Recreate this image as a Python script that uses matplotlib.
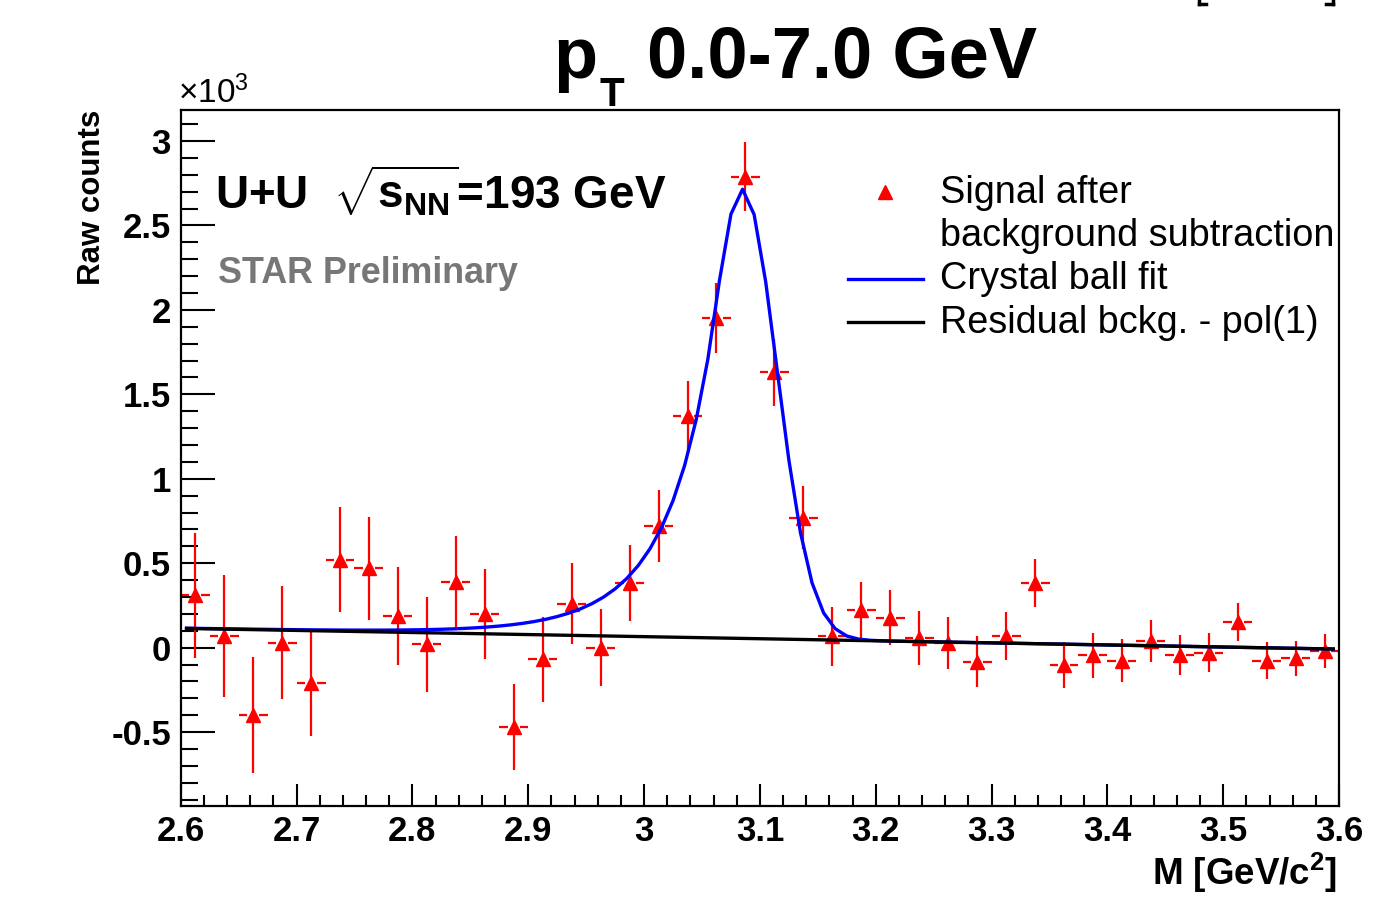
import numpy as np
import matplotlib
matplotlib.use('Agg')
import matplotlib.pyplot as plt
from matplotlib.lines import Line2D
from matplotlib.ticker import MultipleLocator, FuncFormatter

plt.rcParams['font.family'] = ['Liberation Sans', 'DejaVu Sans']
plt.rcParams['mathtext.fontset'] = 'custom'
plt.rcParams['mathtext.rm'] = 'Liberation Sans'
plt.rcParams['mathtext.bf'] = 'Liberation Sans:bold'
plt.rcParams['mathtext.it'] = 'Liberation Sans:italic'

# invariant mass bin centres (GeV/c^2), bin width 0.025
mass = [2.6125, 2.6375, 2.6625, 2.6875, 2.7125, 2.7375, 2.7625, 2.7875, 2.8125, 2.8375,
        2.8625, 2.8875, 2.9125, 2.9375, 2.9625, 2.9875, 3.0125, 3.0375, 3.0625, 3.0875,
        3.1125, 3.1375, 3.1625, 3.1875, 3.2125, 3.2375, 3.2625, 3.2875, 3.3125, 3.3375,
        3.3625, 3.3875, 3.4125, 3.4375, 3.4625, 3.4875, 3.5125, 3.5375, 3.5625, 3.5875]
half_width = 0.0125

# signal after background subtraction, in units of 10^3 counts
counts = [0.31, 0.07, -0.40, 0.03, -0.21, 0.52, 0.47, 0.19, 0.02, 0.39,
          0.20, -0.47, -0.07, 0.26, 0.00, 0.385, 0.72, 1.37, 1.95, 2.79,
          1.63, 0.77, 0.067, 0.223, 0.176, 0.055, 0.026, -0.083, 0.069, 0.383,
          -0.103, -0.044, -0.077, 0.039, -0.044, -0.031, 0.153, -0.077, -0.063, -0.02]
errors = [0.37, 0.36, 0.345, 0.335, 0.315, 0.31, 0.305, 0.29, 0.28, 0.27,
          0.265, 0.255, 0.25, 0.24, 0.23, 0.225, 0.215, 0.21, 0.207, 0.205,
          0.20, 0.185, 0.176, 0.168, 0.163, 0.159, 0.153, 0.149, 0.144, 0.14,
          0.135, 0.133, 0.128, 0.123, 0.118, 0.115, 0.111, 0.108, 0.104, 0.10]

# fit parameters (crystal ball + pol1 residual background)
cb_amp = 2.66
cb_mean = 3.085
cb_sigma = 0.0295
cb_alpha = 0.75
cb_n = 8.0
pol_p0 = 0.434
pol_p1 = -0.123
fit_lo, fit_hi = 2.605, 3.595
fit_npx = 100


def pol1(x):
    return pol_p0 + pol_p1 * x


def crystal_ball(x):
    t = (x - cb_mean) / cb_sigma
    a = cb_alpha
    A = (cb_n / a) ** cb_n * np.exp(-a * a / 2)
    B = cb_n / a - a
    out = np.exp(-t * t / 2)
    tail = t < -a
    out[tail] = A * (B - t[tail]) ** (-cb_n)
    return cb_amp * out


mass = np.array(mass)
counts = np.array(counts)
errors = np.array(errors)

fig = plt.figure(figsize=(14, 9), dpi=100)
ax = fig.add_axes([0.1291, 0.1048, 0.8274, 0.773])

red = '#ff0000'
# vertical error bars
ax.vlines(mass, counts - errors, counts + errors, color=red, lw=1.6, zorder=2)
# horizontal bin-width bars with a gap around the marker
gap = 0.0052
ax.hlines(counts, mass - half_width, mass - gap, color=red, lw=1.6, zorder=2)
ax.hlines(counts, mass + gap, mass + half_width, color=red, lw=1.6, zorder=2)
ax.plot(mass, counts, ls='none', marker='^', ms=10.5, color=red, mec=red, zorder=3)

xs = np.linspace(fit_lo, fit_hi, fit_npx)
ax.plot(xs, crystal_ball(xs) + pol1(xs), color='#0000ff', lw=2.4, zorder=4)
ax.plot(xs, pol1(xs), color='black', lw=2.4, zorder=5)

ax.set_xlim(2.6, 3.6)
ax.set_ylim(-0.936, 3.184)

for s in ax.spines.values():
    s.set_linewidth(1.6)

ax.xaxis.set_major_locator(MultipleLocator(0.1))
ax.xaxis.set_minor_locator(MultipleLocator(0.02))
ax.yaxis.set_major_locator(MultipleLocator(0.5))
ax.yaxis.set_minor_locator(MultipleLocator(0.1))
fmt = FuncFormatter(lambda v, p: f'{v:g}')
ax.xaxis.set_major_formatter(fmt)
ax.yaxis.set_major_formatter(fmt)
ax.tick_params(axis='both', which='both', direction='in', width=1.5, top=False, right=False)
ax.tick_params(axis='y', which='major', length=24.5, pad=7)
ax.tick_params(axis='y', which='minor', length=12)
ax.tick_params(axis='x', which='major', length=16, pad=7)
ax.tick_params(axis='x', which='minor', length=8)
for lab in ax.get_xticklabels() + ax.get_yticklabels():
    lab.set_fontsize(25)
    lab.set_fontweight('bold')

ax.set_ylabel('Raw counts', loc='top', fontsize=22.5, fontweight='bold')
ax.yaxis.set_label_coords(-0.064, 1.0)
ax.set_xlabel(r'M [GeV/c$^{\mathbf{2}}$]', loc='right', fontsize=26.5, fontweight='bold', va='baseline')
ax.xaxis.set_label_coords(0.998, -0.114)

# exponent label
fig.text(0.127, 0.8856, u'\u00d710$^{3}$', fontsize=24)

# title
fig.text(553 / 1400, 1 - 78 / 900, 'p', fontsize=52, fontweight='bold', va='baseline')
fig.text(600 / 1400, 1 - 106 / 900, 'T', fontsize=29, fontweight='bold', va='baseline')
fig.text(647 / 1400, 1 - 78 / 900, '0.0-7.0 GeV', fontsize=52, fontweight='bold', va='baseline')

# bottoms of brackets of a text cut off at the top right edge
for bx, sgn in [(1199, 1), (1333, -1)]:
    x0 = bx / 1400
    fig.add_artist(Line2D([x0, x0], [1.0, 1 - 4 / 900], color='black', lw=2.5,
                          transform=fig.transFigure))
    fig.add_artist(Line2D([x0, x0 + sgn * 7 / 1400], [1 - 4 / 900, 1 - 4 / 900], color='black',
                          lw=2.5, transform=fig.transFigure))

ax.text(0.0296, 0.859, r'U+U  $\mathbf{\sqrt{s_{NN}}}$=193 GeV', transform=ax.transAxes,
        fontsize=33, fontweight='bold', va='baseline')
ax.text(0.0322, 0.7513, 'STAR Preliminary', transform=ax.transAxes,
        fontsize=25.8, fontweight='bold', color='#777777', va='baseline')

# legend
tr = ax.transAxes
ax.plot([0.608], [0.882], transform=tr, marker='^', ms=10, color=red, ls='none')
ax.plot([0.576, 0.641], [0.757, 0.757], transform=tr, color='#0000ff', lw=2.4)
ax.plot([0.576, 0.641], [0.695, 0.695], transform=tr, color='black', lw=2.4)
leg_x = 0.6556
ax.text(leg_x, 0.866, 'Signal after', transform=tr, fontsize=27.3, va='baseline')
ax.text(leg_x, 0.8045, 'background subtraction', transform=tr, fontsize=27.3, va='baseline')
ax.text(leg_x, 0.7427, 'Crystal ball fit', transform=tr, fontsize=27.3, va='baseline')
ax.text(leg_x, 0.6795, 'Residual bckg. - pol(1)', transform=tr, fontsize=27.3, va='baseline')

fig.savefig('out.png', dpi=100)
